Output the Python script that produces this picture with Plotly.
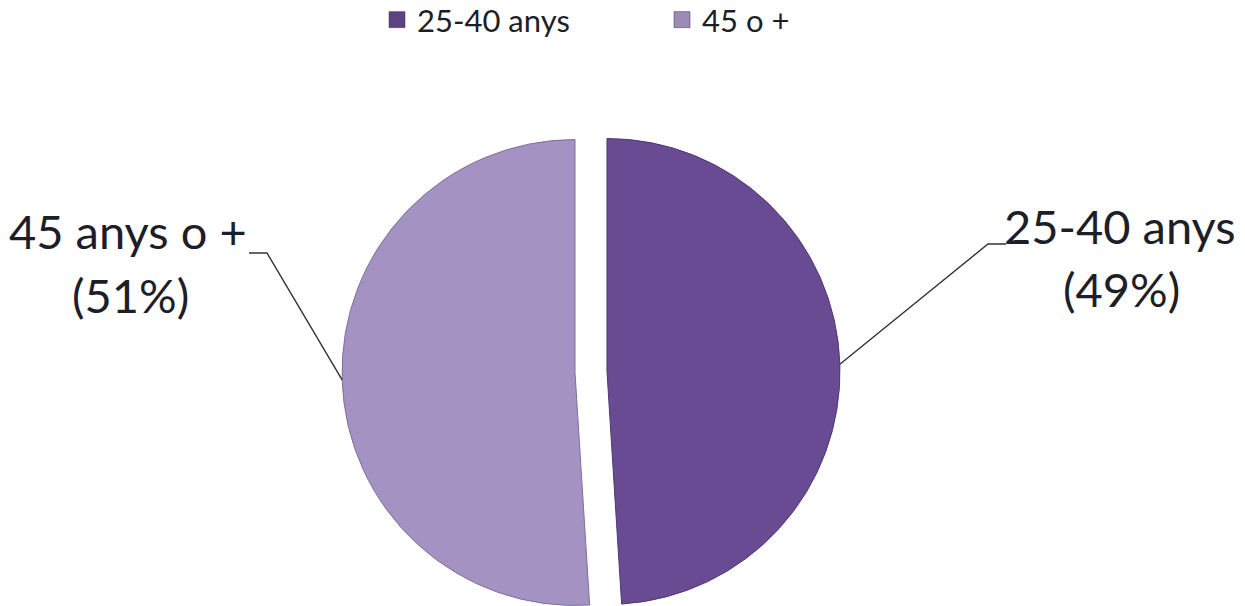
import math
import plotly.graph_objects as go

# ---------------- data ----------------
categories = ["25-40 anys", "45 o +"]          # legend entries
slice_labels = ["25-40 anys", "45 anys o +"]    # data-label names
values = [49, 51]                               # percentages

# ---------------- styles ----------------
slice_colors = ["#684B93", "#A392C2"]
edge_colors = ["#4E3873", "#7F6E9E"]
legend_colors = ["#5B447F", "#9C8BB5"]
FONT = "Lato"
TEXT_COLOR = "#1E1E28"

W, H = 1245, 606
CX, CY, R = 591, 372, 233      # pie centre / radius in px
PULL = 16                      # explosion distance in px

# label layout (px): line centres, elbow and tail of leader line
label_layout = [
    dict(l1=(1120, 226), l2=(1121, 289), elbow=(988, 244), tail=(1006, 244)),
    dict(l1=(128, 231), l2=(130, 295), elbow=(267, 253), tail=(249, 253)),
]

def px(x):
    return x / W

def py(y):
    return 1 - y / H

fig = go.Figure()
total = sum(values)
start = 0.0
shapes = []
annotations = []
for i, v in enumerate(values):
    a0 = start / total * 360
    a1 = (start + v) / total * 360
    start += v
    mid = math.radians((a0 + a1) / 2)
    cx = CX + PULL * math.sin(mid)
    cy = CY - PULL * math.cos(mid)
    colors = ["rgba(0,0,0,0)"] * len(values)
    colors[i] = slice_colors[i]
    lcol = ["rgba(0,0,0,0)"] * len(values)
    lcol[i] = edge_colors[i]
    lw = [0] * len(values)
    lw[i] = 1
    fig.add_trace(go.Pie(
        values=values,
        labels=[f"s{i}_{j}" for j in range(len(values))],
        sort=False,
        direction="clockwise",
        rotation=0,
        textinfo="none",
        hoverinfo="skip",
        showlegend=False,
        marker=dict(colors=colors, line=dict(color=lcol, width=lw)),
        domain=dict(x=[max(0, px(cx - R)), min(1, px(cx + R))],
                    y=[max(0, py(cy + R)), min(1, py(cy - R))]),
    ))
    # leader line from slice edge midpoint
    ex = cx + R * math.sin(mid)
    ey = cy - R * math.cos(mid)
    L = label_layout[i]
    shapes.append(dict(
        type="path", xref="paper", yref="paper",
        path=f"M {px(ex)} {py(ey)} L {px(L['elbow'][0])} {py(L['elbow'][1])} "
             f"L {px(L['tail'][0])} {py(L['tail'][1])}",
        line=dict(color="#333333", width=1.4),
    ))
    annotations.append(dict(
        x=px(L["l1"][0]), y=py(L["l1"][1]), xref="paper", yref="paper",
        text=slice_labels[i], showarrow=False, xanchor="center", yanchor="middle",
        font=dict(family=FONT, size=47, color=TEXT_COLOR),
    ))
    annotations.append(dict(
        x=px(L["l2"][0]), y=py(L["l2"][1]), xref="paper", yref="paper",
        text=f"({v}%)", showarrow=False, xanchor="center", yanchor="middle",
        font=dict(family=FONT, size=47, color=TEXT_COLOR),
    ))

# legend entries
for name, col in zip(categories, legend_colors):
    fig.add_trace(go.Scatter(
        x=[None], y=[None], mode="markers", name=name,
        marker=dict(symbol="square", size=20, color=col,
                    line=dict(color="#3a2d55", width=0.5)),
        showlegend=True,
    ))

fig.update_layout(
    width=W, height=H,
    margin=dict(l=0, r=0, t=0, b=0, autoexpand=False),
    paper_bgcolor="white", plot_bgcolor="white",
    xaxis=dict(visible=False), yaxis=dict(visible=False),
    shapes=shapes,
    annotations=annotations,
    showlegend=True,
    legend=dict(
        orientation="h", x=px(377), y=py(-7), xanchor="left", yanchor="top",
        font=dict(family=FONT, size=31, color=TEXT_COLOR),
        entrywidth=240, entrywidthmode="pixels",
        itemsizing="trace", bgcolor="rgba(0,0,0,0)",
    ),
    font=dict(family=FONT),
)

fig.write_html(
    "out.html",
    config={"displayModeBar": False},
    post_script="document.body.style.margin='0px';document.body.style.overflow='hidden';",
)
